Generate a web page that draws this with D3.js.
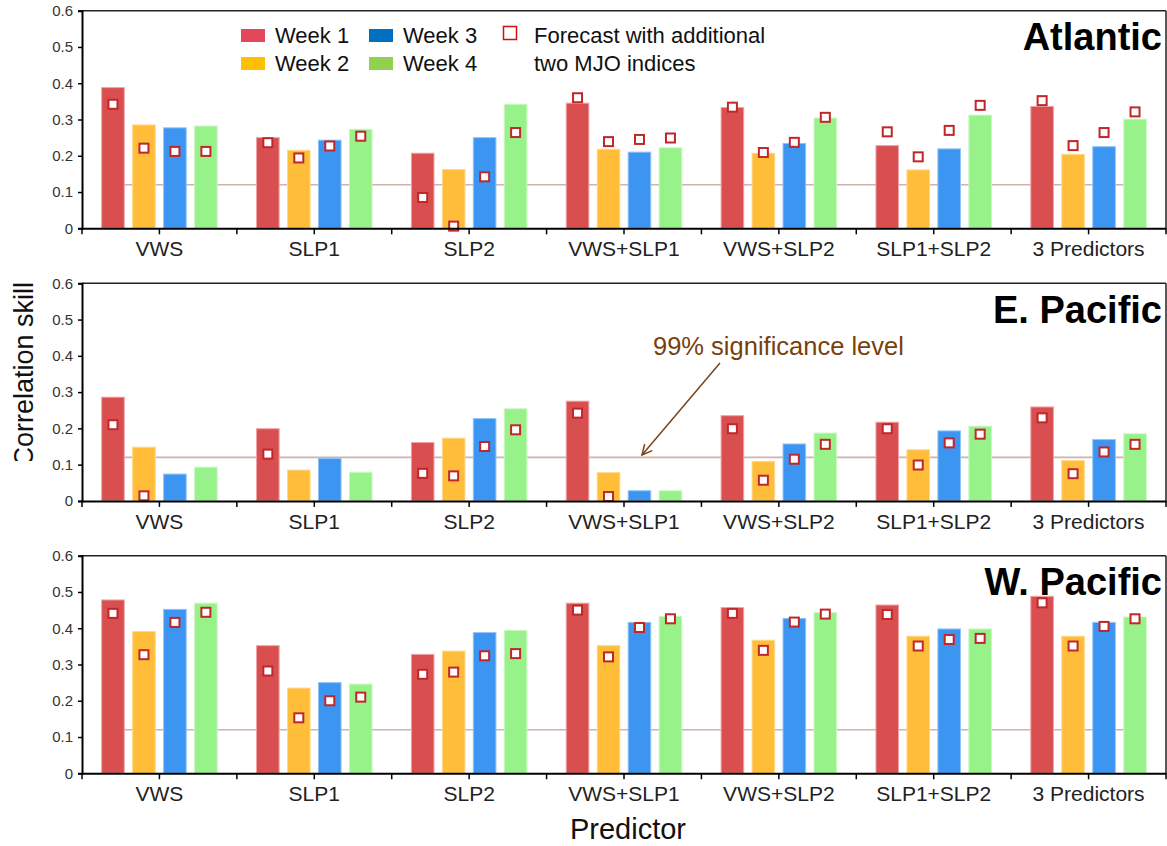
<!DOCTYPE html>
<html>
<head>
<meta charset="utf-8">
<script src="https://cdn.jsdelivr.net/npm/d3@7"></script>
<style>
    body { margin: 0; background: #fff; }
    svg { display: block; font-family: "Liberation Sans", Arial, sans-serif; }
</style>
</head>
<body>
<svg id="chart"></svg>
<script>
// predictors and weeks
let categories = ["VWS", "SLP1", "SLP2", "VWS+SLP1", "VWS+SLP2", "SLP1+SLP2", "3 Predictors"];
let weeks = ["Week 1", "Week 2", "Week 3", "Week 4"];
let yTicks = [0, 0.1, 0.2, 0.3, 0.4, 0.5, 0.6];
let sigLevel = 0.12;

// bar values, one row per predictor (week 1..4)
let atlanticBars = [
    [0.388, 0.285, 0.277, 0.282],
    [0.250, 0.215, 0.243, 0.273],
    [0.207, 0.162, 0.250, 0.342],
    [0.345, 0.218, 0.210, 0.222],
    [0.333, 0.207, 0.234, 0.304],
    [0.228, 0.161, 0.219, 0.312],
    [0.336, 0.204, 0.225, 0.301]
];
let atlanticMJO = [
    [0.342, 0.221, 0.212, 0.212],
    [0.236, 0.194, 0.227, 0.254],
    [0.085, 0.006, 0.142, 0.264],
    [0.360, 0.239, 0.245, 0.249],
    [0.334, 0.209, 0.237, 0.306],
    [0.266, 0.197, 0.270, 0.339],
    [0.352, 0.228, 0.264, 0.321]
];
let ePacificBars = [
    [0.286, 0.148, 0.074, 0.093],
    [0.199, 0.085, 0.117, 0.079],
    [0.161, 0.173, 0.227, 0.254],
    [0.275, 0.078, 0.028, 0.028],
    [0.235, 0.109, 0.157, 0.187],
    [0.217, 0.141, 0.193, 0.206],
    [0.259, 0.111, 0.169, 0.185]
];
let ePacificMJO = [
    [0.210, 0.014, null, null],
    [0.129, null, null, null],
    [0.076, 0.069, 0.150, 0.196],
    [0.242, 0.012, null, null],
    [0.199, 0.057, 0.115, 0.156],
    [0.199, 0.099, 0.160, 0.184],
    [0.229, 0.075, 0.135, 0.156]
];
let wPacificBars = [
    [0.478, 0.391, 0.452, 0.469],
    [0.352, 0.235, 0.250, 0.246],
    [0.328, 0.337, 0.388, 0.394],
    [0.469, 0.352, 0.416, 0.433],
    [0.457, 0.367, 0.427, 0.443],
    [0.464, 0.378, 0.398, 0.398],
    [0.488, 0.378, 0.416, 0.431]
];
let wPacificMJO = [
    [0.441, 0.327, 0.416, 0.444],
    [0.282, 0.153, 0.200, 0.210],
    [0.273, 0.279, 0.324, 0.330],
    [0.450, 0.321, 0.402, 0.426],
    [0.441, 0.339, 0.417, 0.439],
    [0.438, 0.351, 0.369, 0.372],
    [0.470, 0.351, 0.405, 0.426]
];

let panels = [
    { name: "Atlantic", bars: atlanticBars, mjo: atlanticMJO, top: 10.7 },
    { name: "E. Pacific", bars: ePacificBars, mjo: ePacificMJO, top: 283.3 },
    { name: "W. Pacific", bars: wPacificBars, mjo: wPacificMJO, top: 555.7 }
];

let width = 1167,
    height = 846,
    left = 82,
    right = 1166,
    panelH = 217.6;

let barFill = d3.scaleOrdinal().domain(weeks).range(["#d94f50", "#ffbd3a", "#3c95f1", "#97f28a"]);
let barEdge = d3.scaleOrdinal().domain(weeks).range(["#f0a3a6", "#ffd98c", "#8fc4f8", "#c9f8c1"]);
let legendFill = d3.scaleOrdinal().domain(weeks).range(["#e2475b", "#ffc000", "#0070c0", "#92d050"]);

let svg = d3.select("#chart")
    .attr("width", width)
    .attr("height", height);

let x0 = d3.scaleBand()
    .domain(categories)
    .range([left, right])
    .paddingInner(0)
    .paddingOuter(0);

let x1 = d3.scaleBand()
    .domain(weeks)
    .range([0, x0.bandwidth()])
    .paddingInner(0.27)
    .paddingOuter(0.635);

// tick positions at group edges and centres
let tickPos = d3.range(categories.length * 2 + 1).map(i => left + i * x0.bandwidth() / 2);

panels.forEach(p => {
    let y = d3.scaleLinear().domain([0, 0.6]).range([p.top + panelH, p.top]);
    let g = svg.append("g");

    // significance line behind bars
    let lineStart = x0(categories[0]) + x1(weeks[0]) + x1.bandwidth() / 2;
    let lineEnd = x0(categories[categories.length - 1]) + x1(weeks[3]) + x1.bandwidth() / 2;
    g.append("line")
        .attr("x1", lineStart)
        .attr("x2", lineEnd)
        .attr("y1", y(sigLevel))
        .attr("y2", y(sigLevel))
        .attr("stroke", "#d2b2ac")
        .attr("stroke-width", 1.6);

    let groups = g.selectAll("g.grp")
        .data(categories).enter()
        .append("g")
        .attr("class", "grp")
        .attr("transform", d => "translate(" + x0(d) + ",0)");

    groups.selectAll("rect")
        .data((d, i) => weeks.map((w, j) => ({ week: w, v: p.bars[i][j] })))
        .enter()
        .append("rect")
        .attr("x", d => x1(d.week))
        .attr("y", d => y(d.v))
        .attr("width", x1.bandwidth())
        .attr("height", d => y(0) - y(d.v))
        .attr("fill", d => barFill(d.week))
        .attr("stroke", d => barEdge(d.week))
        .attr("stroke-width", 1);

    groups.selectAll("rect.mjo")
        .data((d, i) => weeks.map((w, j) => ({ week: w, v: p.mjo[i][j] })).filter(d => d.v !== null))
        .enter()
        .append("rect")
        .attr("class", "mjo")
        .attr("x", d => x1(d.week) + x1.bandwidth() / 2 - 4.5)
        .attr("y", d => y(d.v) - 4.5)
        .attr("width", 9)
        .attr("height", 9)
        .attr("fill", "#fff")
        .attr("stroke", "#c0262a")
        .attr("stroke-width", 2);

    // frame top
    g.append("line")
        .attr("x1", left).attr("x2", right)
        .attr("y1", p.top).attr("y2", p.top)
        .attr("stroke", "#222")
        .attr("stroke-width", 1.5);
    g.append("line")
        .attr("x1", right).attr("x2", right)
        .attr("y1", p.top).attr("y2", p.top + panelH)
        .attr("stroke", "#222")
        .attr("stroke-width", 1.5);

    // y axis
    let yAxis = g.append("g")
        .attr("transform", "translate(" + left + ",0)")
        .call(d3.axisLeft(y).tickValues(yTicks).tickSize(4).tickPadding(5)
            .tickFormat(d => d === 0 ? "0" : d3.format(".1f")(d)));
    yAxis.select(".domain").attr("stroke", "#000").attr("stroke-width", 2);
    yAxis.selectAll(".tick line").attr("stroke", "#000").attr("stroke-width", 1.5);
    yAxis.selectAll("text").attr("font-size", 15).attr("fill", "#333")
        .attr("font-family", "'Liberation Sans', Arial, sans-serif");

    // x axis
    let xAxis = g.append("g")
        .attr("transform", "translate(0," + y(0) + ")")
        .call(d3.axisBottom(x0).tickSize(6).tickSizeOuter(0).tickPadding(7));
    xAxis.select(".domain").attr("stroke", "#000").attr("stroke-width", 2);
    xAxis.selectAll(".tick line").attr("stroke", "#000").attr("stroke-width", 1.5);
    xAxis.selectAll("text").attr("font-size", 21).attr("fill", "#222")
        .attr("font-family", "'Liberation Sans', Arial, sans-serif");
    xAxis.selectAll("line.edge")
        .data(tickPos.filter((t, i) => i % 2 === 0))
        .enter()
        .append("line")
        .attr("class", "edge")
        .attr("x1", d => d).attr("x2", d => d)
        .attr("y1", 0).attr("y2", 6)
        .attr("stroke", "#000")
        .attr("stroke-width", 1.5);

    // region title
    g.append("text")
        .attr("x", 1162)
        .attr("y", p.top + 39.5)
        .attr("text-anchor", "end")
        .attr("font-size", 38)
        .attr("font-weight", "bold")
        .attr("fill", "#000")
        .text(p.name);
});

// legend
let legend = svg.append("g");
let legendPos = [[241, 29], [241, 57], [369, 29], [369, 57]];
weeks.forEach((w, i) => {
    legend.append("rect")
        .attr("x", legendPos[i][0])
        .attr("y", legendPos[i][1])
        .attr("width", 24)
        .attr("height", 13)
        .attr("fill", legendFill(w));
    legend.append("text")
        .attr("x", legendPos[i][0] + 34)
        .attr("y", legendPos[i][1] + 14)
        .attr("font-size", 22)
        .attr("fill", "#111")
        .text(w);
});
legend.append("rect")
    .attr("x", 503.5).attr("y", 26.5)
    .attr("width", 13).attr("height", 13)
    .attr("fill", "#fff")
    .attr("stroke", "#d01010")
    .attr("stroke-width", 1.5);
legend.append("text")
    .attr("x", 534).attr("y", 43)
    .attr("font-size", 22).attr("fill", "#111")
    .text("Forecast with additional");
legend.append("text")
    .attr("x", 534).attr("y", 71)
    .attr("font-size", 22).attr("fill", "#111")
    .text("two MJO indices");

// significance annotation
svg.append("defs").append("marker")
    .attr("id", "arrow")
    .attr("viewBox", "0 0 12 12")
    .attr("refX", 11).attr("refY", 6)
    .attr("markerWidth", 12).attr("markerHeight", 12)
    .attr("markerUnits", "userSpaceOnUse")
    .attr("orient", "auto")
    .append("path")
    .attr("d", "M1,1 L11,6 L1,11")
    .attr("fill", "none")
    .attr("stroke", "#7b4318")
    .attr("stroke-width", 1.5);

svg.append("line")
    .attr("x1", 720).attr("y1", 363)
    .attr("x2", 642).attr("y2", 455)
    .attr("stroke", "#7b4318")
    .attr("stroke-width", 1.5)
    .attr("marker-end", "url(#arrow)");

svg.append("text")
    .attr("x", 653).attr("y", 355)
    .attr("font-size", 25.5)
    .attr("fill", "#7b3f0c")
    .text("99% significance level");

// axis titles
svg.append("text")
    .attr("x", 628).attr("y", 839)
    .attr("text-anchor", "middle")
    .attr("font-size", 29)
    .attr("fill", "#111")
    .text("Predictor");

svg.append("clipPath")
    .attr("id", "yclip")
    .append("rect")
    .attr("x", 0).attr("y", 260)
    .attr("width", 60).attr("height", 201);

svg.append("g")
    .attr("clip-path", "url(#yclip)")
    .append("text")
    .attr("transform", "translate(33,282) rotate(-90)")
    .attr("text-anchor", "end")
    .attr("font-size", 27)
    .attr("fill", "#111")
    .text("Correlation skill");
</script>
</body>
</html>
